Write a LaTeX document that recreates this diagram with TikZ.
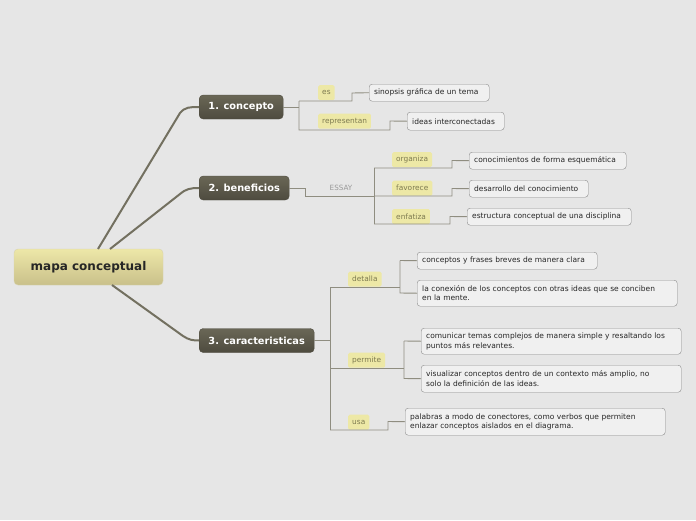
\documentclass[tikz,border=0pt]{standalone}
\usepackage{fontspec}
\setmainfont{DejaVu Sans}
\usetikzlibrary{positioning}
\definecolor{bgc}{HTML}{E6E6E6}
\definecolor{dark}{HTML}{4E4B3F}
\definecolor{darktop}{HTML}{6A6756}
\definecolor{rooty}{HTML}{EDE7A8}
\definecolor{rootd}{HTML}{C9C08A}
\definecolor{lblc}{HTML}{EDE8A6}
\definecolor{lbltxt}{HTML}{7D7A50}
\definecolor{wire}{HTML}{8F8D80}
\definecolor{trunk}{HTML}{737060}
\tikzset{
  root/.style={rounded corners=4pt, top color=rooty, bottom color=rootd, draw=rootd!70!white,
    minimum width=149pt, minimum height=36pt, font=\fontsize{12}{14}\selectfont\bfseries, text=black!85},
  mainnode/.style={rounded corners=4pt, top color=darktop, bottom color=dark, draw=dark,
    minimum height=24pt, inner xsep=0pt, font=\fontsize{9.8}{11}\selectfont\bfseries, text=white},
  lbl/.style={fill=lblc, rounded corners=1.5pt, inner xsep=4pt, minimum height=15pt,
    anchor=north west, font=\fontsize{7.4}{8}\selectfont, text=lbltxt},
  leaf/.style={draw=black!45, fill=bgc!60!white, rounded corners=3pt, anchor=north west,
    align=left, inner xsep=5pt, inner ysep=2pt, font=\fontsize{7.5}{9.5}\selectfont, text=black!85},
  wire/.style={draw=wire, line width=0.9pt},
  trunk/.style={draw=trunk, line width=2pt}
}
\begin{document}
\begin{tikzpicture}[x=1pt,y=-1pt]
  \fill[bgc] (0,0) rectangle (696,520);
  \useasboundingbox (0,0) rectangle (696,520);

  % root and main branches
  \node[root] (root) at (88.5,267) {mapa conceptual};
  \node[mainnode, anchor=west, minimum width=84pt] (concepto) at (199,107) {1. concepto};
  \node[mainnode, anchor=west, minimum width=90pt] (beneficios) at (199,188) {2. beneficios};
  \node[mainnode, anchor=west, minimum width=115pt] (caract) at (199,340.5) {3. caracteristicas};

  \draw[trunk] (98,249) -- (180,113) .. controls (185,107) and (190,107) .. (concepto.west);
  \draw[trunk] (110,249) -- (180,194) .. controls (186,189) and (190,188) .. (beneficios.west);
  \draw[trunk] (112,285) -- (183,336) .. controls (189,340) and (193,340.5) .. (caract.west);

  % 1. concepto
  \node[lbl] (es) at (318,85) {es};
  \node[lbl] (repr) at (318,113.5) {representan};
  \node[leaf, text width=110pt, minimum height=17pt] (sinop) at (369,84) {sinopsis gráfica de un tema};
  \node[leaf, text width=87pt, minimum height=18pt] (ideas) at (407,112) {ideas interconectadas};
  \coordinate (c1) at (299,107);
  \draw[wire] (concepto.east) -- (c1);
  \draw[wire] (299,101) -- (352,101) -- (352,93) -- (sinop.west);
  \draw[wire] (299,101) -- (299,130) -- (390,130) -- (390,121) -- (ideas.west);

  % 2. beneficios
  \node[font=\fontsize{7.2}{8}\selectfont, text=black!40] (essay) at (341,188) {ESSAY};
  \node[lbl] (org) at (392,152) {organiza};
  \node[lbl] (fav) at (392,180.5) {favorece};
  \node[lbl] (enf) at (392,209) {enfatiza};
  \node[leaf, text width=147pt, minimum height=17pt] (conoc) at (469,152) {conocimientos de forma esquemática};
  \node[leaf, text width=109pt, minimum height=17pt] (desar) at (469,180) {desarrollo del conocimiento};
  \node[leaf, text width=154pt, minimum height=17pt] (estr) at (467,208) {estructura conceptual de una disciplina};
  \draw[wire] (beneficios.east) -- (305,188) -- (305,196) -- (374,196);
  \draw[wire] (374,168) -- (374,224);
  \draw[wire] (374,168) -- (452,168) -- (452,160.5) -- (conoc.west);
  \draw[wire] (374,196) -- (452,196) -- (452,188.5) -- (desar.west);
  \draw[wire] (374,224) -- (450,224) -- (450,216.5) -- (estr.west);

  % 3. caracteristicas
  \node[lbl] (det) at (348,271.5) {detalla};
  \node[lbl] (perm) at (348,352.5) {permite};
  \node[lbl] (usa) at (348,414.5) {usa};
  \node[leaf, text width=170pt, minimum height=17pt] (d1) at (417,252) {conceptos y frases breves de manera clara};
  \node[leaf, text width=250pt, minimum height=26pt] (d2) at (417,280) {la conexión de los conceptos con otras ideas que se conciben\\en la mente.};
  \node[leaf, text width=250pt, minimum height=26pt] (p1) at (421,328) {comunicar temas complejos de manera simple y resaltando los\\puntos más relevantes.};
  \node[leaf, text width=250pt, minimum height=27pt] (p2) at (421,365) {visualizar conceptos dentro de un contexto más amplio, no\\solo la definición de las ideas.};
  \node[leaf, text width=250pt, minimum height=27pt] (u1) at (405,408) {palabras a modo de conectores, como verbos que permiten\\enlazar conceptos aislados en el diagrama.};
  \draw[wire] (caract.east) -- (330,340.5);
  \draw[wire] (330,287) -- (330,430);
  \draw[wire] (330,287) -- (400,287);
  \draw[wire] (400,260.5) -- (400,293) -- (d2.west);
  \draw[wire] (400,260.5) -- (d1.west);
  \draw[wire] (330,368) -- (404,368);
  \draw[wire] (404,341) -- (404,378.5) -- (p2.west);
  \draw[wire] (404,341) -- (p1.west);
  \draw[wire] (330,430) -- (388,430) -- (388,421.5) -- (u1.west);
\end{tikzpicture}
\end{document}
